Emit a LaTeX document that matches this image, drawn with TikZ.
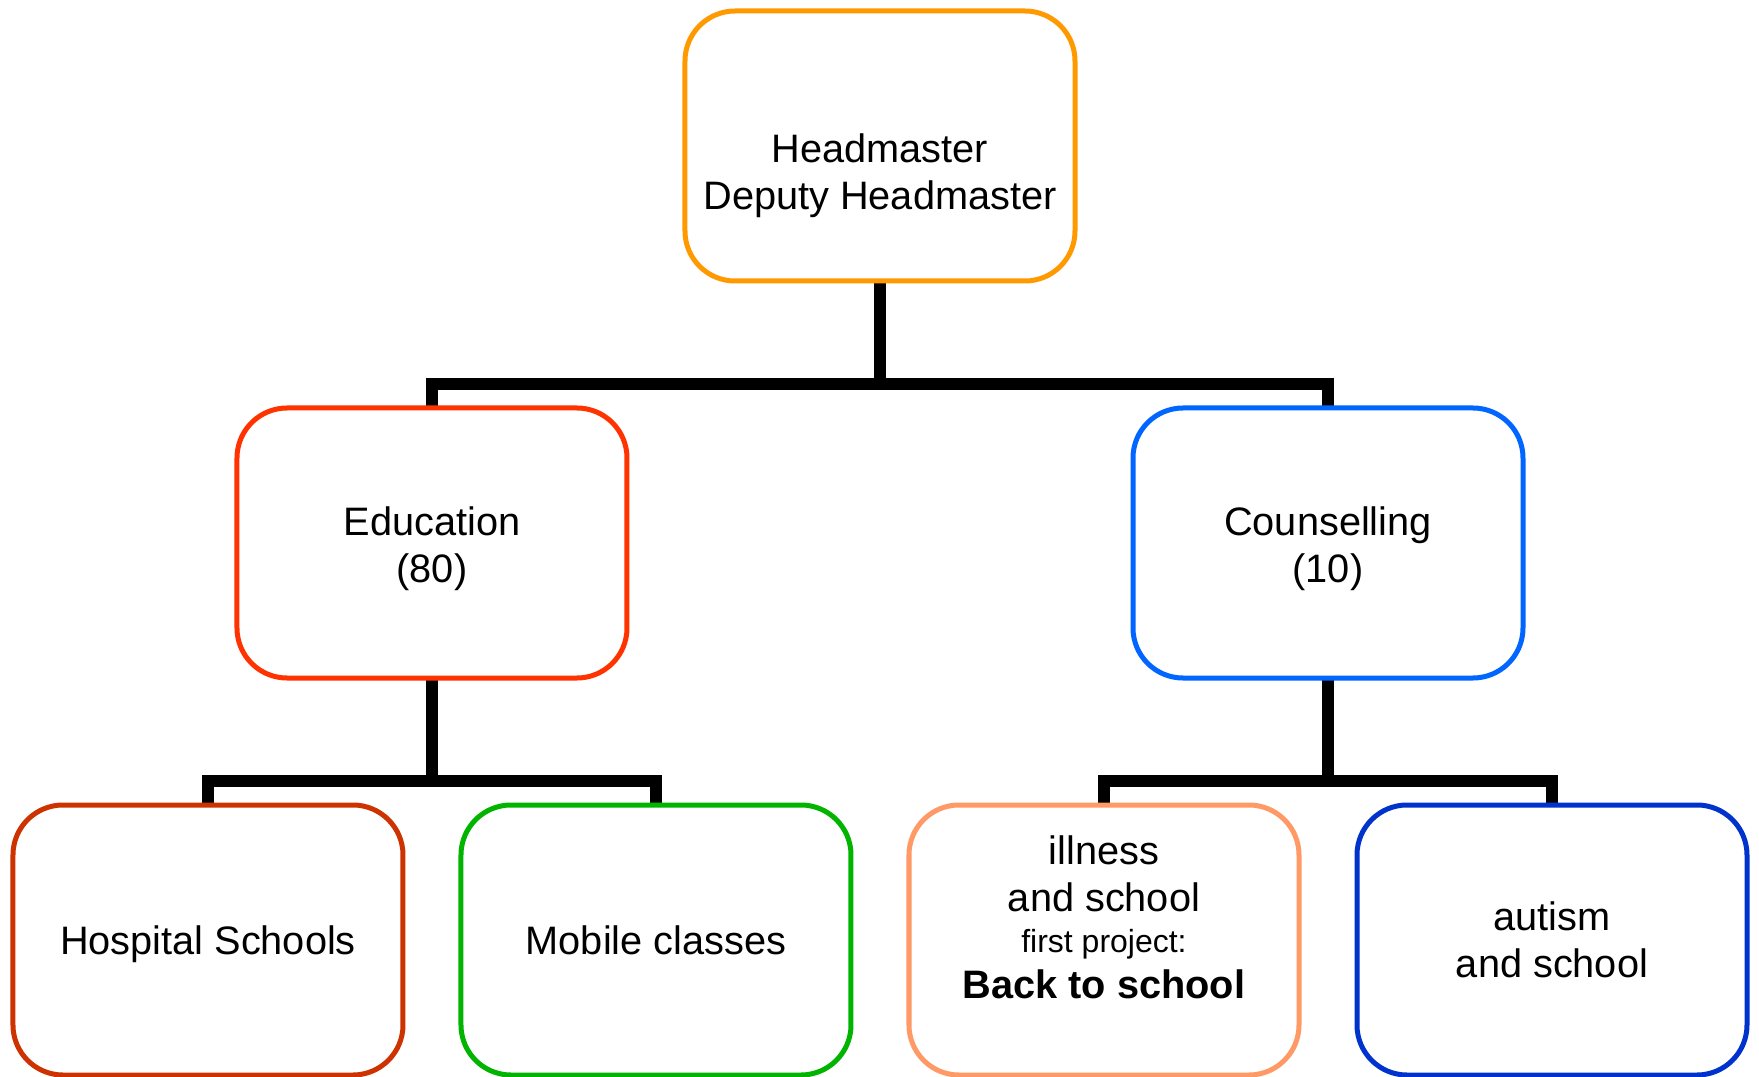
\documentclass[tikz,border=0pt]{standalone}
\usepackage{fontspec}
\setmainfont{Liberation Sans}
\usetikzlibrary{positioning,backgrounds}

\definecolor{headorange}{HTML}{FF9900}
\definecolor{edured}{HTML}{FF3300}
\definecolor{counblue}{HTML}{0066FF}
\definecolor{hosprust}{HTML}{CC3300}
\definecolor{mobgreen}{HTML}{00B400}
\definecolor{illsalmon}{HTML}{FF9966}
\definecolor{autblue}{HTML}{0033CC}

\begin{document}
\begin{tikzpicture}[
  box/.style={draw=#1, fill=white, line width=0.1cm, rounded corners=1cm,
    minimum width=7.8cm, minimum height=5.4cm, inner sep=0pt, outer sep=0pt,
    align=center, font=\fontsize{22.6}{26.5}\selectfont},
  link/.style={line width=0.24cm}]
 \useasboundingbox (-17.6,2.92) rectangle (17.58,-18.62);
 % top
 \node[box=headorange] (head) {\rule{0pt}{50pt}Headmaster\\Deputy Headmaster};
 % second row
 \node[box=edured, below left=2.54cm and 1.16cm of head] (edu) {\rule{0pt}{23pt}Education\\(80)};
 \node[box=counblue, below right=2.54cm and 1.16cm of head] (coun) {\rule{0pt}{23pt}Counselling\\(10)};
 % third row
 \node[box=hosprust, below=2.54cm of edu, xshift=-4.48cm] (hosp) {\rule{0pt}{21.6pt}Hospital Schools};
 \node[box=mobgreen, right=1.16cm of hosp] (mob) {Mobile classes};
 \node[box=illsalmon, below=2.54cm of coun, xshift=-4.48cm] (ill)
   {illness\\and school\\[-3.2pt]{\fontsize{18.2}{26.5}\selectfont first project:}\\\textbf{Back to school}\rule[-26pt]{0pt}{26pt}};
 \node[box=autblue, right=1.16cm of ill] (aut) {autism\\and school};
 % connectors
 \begin{scope}[on background layer]
  \draw[link] (edu.north) -- ++(0,0.48) -| (head.south);
  \draw[link] (coun.north) -- ++(0,0.48) -| (head.south);
  \draw[link] (hosp.north) -- ++(0,0.48) -| (edu.south);
  \draw[link] (mob.north) -- ++(0,0.48) -| (edu.south);
  \draw[link] (ill.north) -- ++(0,0.48) -| (coun.south);
  \draw[link] (aut.north) -- ++(0,0.48) -| (coun.south);
 \end{scope}
\end{tikzpicture}
\end{document}
